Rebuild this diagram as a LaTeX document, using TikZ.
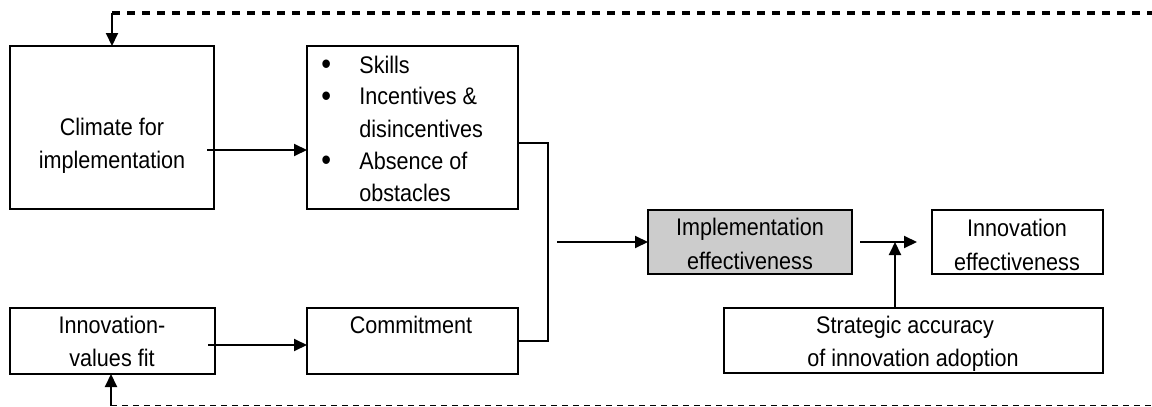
\documentclass[tikz,border=0pt]{standalone}
\usepackage{fontspec}
\setmainfont[FakeStretch=0.9]{Liberation Sans}
\usetikzlibrary{arrows.meta}
\newcommand{\mylines}[1]{\begin{tabular}[t]{@{}c@{}}#1\end{tabular}}
\newcommand{\mybul}{\makebox[19pt][l]{\fontsize{15.5pt}{15.5pt}\selectfont\raisebox{-0.6pt}{\textbullet}}}
\begin{document}
\begin{tikzpicture}[x=0.5pt,y=-0.5pt,
  box/.style={draw, line width=1.1pt, inner sep=0pt, outer sep=0pt},
  txt/.style={font=\fontsize{12pt}{16.5pt}\selectfont, inner sep=0pt, anchor=base},
  conn/.style={line width=1pt},
  arr/.style={conn, -{Triangle[length=6.5pt,width=6pt]}},
  dtop/.style={line width=1.6pt, dash pattern=on 4pt off 3.5pt},
  dbot/.style={line width=0.7pt, dash pattern=on 3pt off 2.5pt}]
\useasboundingbox (0,0) rectangle (1152,407);

% boxes
\node[box, minimum width=102pt, minimum height=81.5pt] (climate) at (112,127.5) {};
\node[box, minimum width=105.5pt, minimum height=81.5pt] (skills) at (412.5,127.5) {};
\node[box, minimum width=102.5pt, minimum height=33pt] (fit) at (112.5,341) {};
\node[box, minimum width=105.5pt, minimum height=33pt] (commit) at (412.5,341) {};
\node[box, fill=gray!40, minimum width=102pt, minimum height=32pt] (impl) at (750,242) {};
\node[box, minimum width=85.5pt, minimum height=32pt] (innov) at (1017.5,242) {};
\node[box, minimum width=189.5pt, minimum height=32.5pt] (strat) at (913.5,340.5) {};

% texts
\node[txt] (climate-t) at (112,135.7) {\mylines{Climate for\\implementation}};
\node[txt, anchor=base west, font=\fontsize{12pt}{16pt}\selectfont] (skills-t) at (321,73)
  {\begin{tabular}[t]{@{}l@{}l@{}}
   \mybul & Skills\\
   \mybul & Incentives \&\\
          & disincentives\\
   \mybul & Absence of\\
          & obstacles
   \end{tabular}};
\node[txt] (fit-t) at (112,333) {\mylines{Innovation-\\values fit}};
\node[txt] (commit-t) at (411,333) {Commitment};
\node[txt] (impl-t) at (750,235.7) {\mylines{Implementation\\[0.5pt]effectiveness}};
\node[txt] (innov-t) at (1017,236.5) {\mylines{Innovation\\[0.5pt]effectiveness}};
\node[txt] (strat-t) at (913,333) {\mylines{Strategic accuracy\kern8pt\\of innovation adoption}};

% junction coordinates
\coordinate (jtop) at (548,143);
\coordinate (jbot) at (548,341);
\coordinate (jmid) at (557,242);
\coordinate (k) at (895,242);
\coordinate (fbL) at (112,13);
\coordinate (fbR) at (1152,13);
\coordinate (fbL2) at (111,405.5);
\coordinate (fbR2) at (1152,405.5);

% connectors
\draw[arr] (climate.east |- 0,150) ++(-3.5pt,0) -- (skills.west |- 0,150);
\draw[arr] (fit.east |- 0,345) ++(-3.5pt,0) -- (commit.west |- 0,345);
\draw[conn] (skills.east |- jtop) -- (jtop) -- (jbot) -- (commit.east |- jbot);
\draw[arr] (jmid) -- (impl.west |- jmid);
\draw[arr] ([xshift=4pt]impl.east) -- ([xshift=-7.5pt]innov.west);
\draw[arr] (strat.north -| k) -- (k);

% feedback loops
\draw[dtop] (fbL) -- (fbR);
\draw[arr] (fbL) -- (climate.north -| fbL);
\draw[dbot] (fbL2) -- (fbR2);
\draw[arr] (fbL2) -- (fit.south -| fbL2);
\end{tikzpicture}
\end{document}
